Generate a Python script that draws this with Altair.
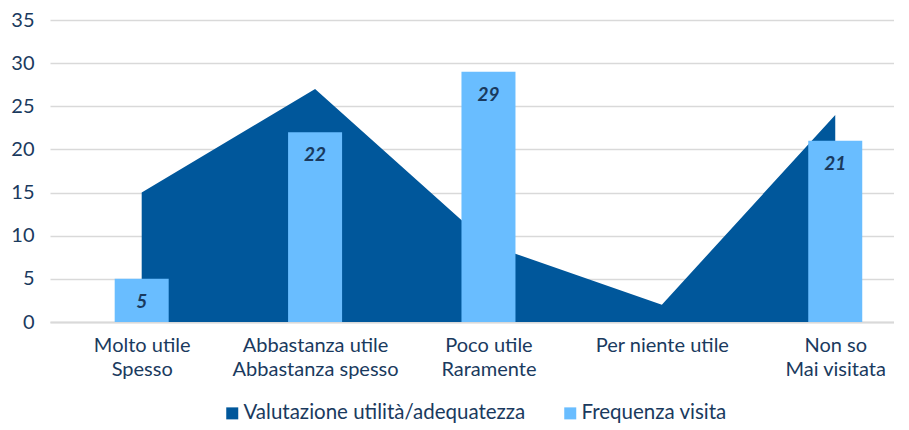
import json
import altair as alt
import pandas as pd

categories = ["Molto utile\nSpesso", "Abbastanza utile\nAbbastanza spesso",
              "Poco utile\nRaramente", "Per niente utile", "Non so\nMai visitata"]
utilita = [15, 27, 9, 2, 24]
frequenza = [5, 22, 29, None, 21]
series = ["Valutazione utilità/adequatezza", "Frequenza visita"]
colors = ["#00579b", "#69bdff"]
TEXT = "#1a3a5e"
FONT = "Lato"
FS = 20

idx = list(range(len(categories)))
df_area = pd.DataFrame({"idx": idx, "cat": categories, "val": utilita, "serie": series[0]})
df_bar = pd.DataFrame({"idx": idx, "cat": categories, "val": frequenza, "serie": series[1]}).dropna()

label_lookup = json.dumps([c.split("\n") for c in categories], ensure_ascii=False)

# the reference plot is cut at the right edge of the picture
x_scale = alt.Scale(domain=[-0.5, 4.31], nice=False, zero=False)
y_scale = alt.Scale(domain=[0, 35])
color = alt.Color("serie:N", scale=alt.Scale(domain=series, range=colors),
                  legend=alt.Legend(title=None, orient="none", legendX=172, legendY=383,
                                    direction="horizontal", symbolType="square", symbolSize=144,
                                    labelFont=FONT, labelFontSize=20.5, labelColor=TEXT,
                                    labelLimit=400, columnPadding=34, labelOffset=1, padding=0,
                                    symbolStrokeWidth=0))

x_axis = alt.Axis(values=idx, labelExpr=label_lookup + "[datum.value]", labelAngle=0,
                  labelFont=FONT, labelFontSize=FS, labelColor=TEXT,
                  labelLineHeight=24, labelPadding=13, ticks=False, grid=False,
                  domain=True, domainColor="#d9d9d9", domainWidth=2,
                  labelBaseline="top", labelFlush=False, labelOverlap=False)
y_axis = alt.Axis(values=[0, 5, 10, 15, 20, 25, 30, 35], ticks=False, domain=False,
                  labelFont=FONT, labelFontSize=FS, labelColor=TEXT,
                  labelPadding=16, gridColor="#d9d9d9", gridWidth=1.5)

x_enc = alt.X("idx:Q", scale=x_scale, title=None, axis=x_axis)
y_enc = alt.Y("val:Q", scale=y_scale, title=None, axis=y_axis)

area = alt.Chart(df_area).mark_area(opacity=1).encode(x=x_enc, y=y_enc, color=color)

bars = alt.Chart(df_bar).mark_bar(opacity=1, size=54).encode(x=x_enc, y=y_enc, color=color)

labels = alt.Chart(df_bar).mark_text(font=FONT, fontSize=19, fontWeight="bold",
                                      fontStyle="italic", color=TEXT, baseline="middle",
                                      dy=23).encode(
    x=alt.X("idx:Q", scale=x_scale),
    y=alt.Y("val:Q", scale=y_scale),
    text=alt.Text("val:Q", format="d"),
)

chart = alt.layer(area, bars, labels).properties(
    width=844, height=302,
    padding={"left": 2, "top": 2, "right": 0, "bottom": 0},
).configure_view(stroke=None)

chart.save("out.html", embed_options={"renderer": "svg", "actions": False})
